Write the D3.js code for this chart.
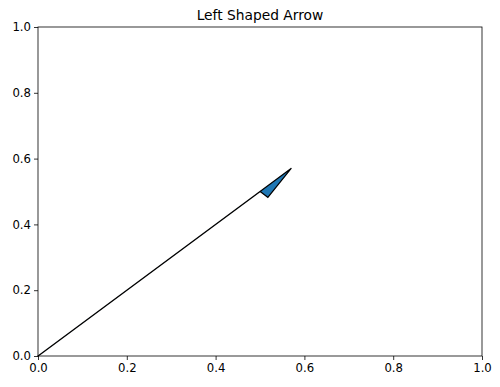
<!DOCTYPE html>
<html>
<head>
<meta charset="utf-8">
<script src="https://cdn.jsdelivr.net/npm/d3@7"></script>
<style>
  body { margin: 0; background: #fff; }
  text { font-family: "DejaVu Sans", sans-serif; }
</style>
</head>
<body>
<div id="chart"></div>
<script>
// Arrow definition (data units)
const arrowStart = [0, 0];
const arrowDelta = [0.5, 0.5];
const headWidth = 0.05;
const headLength = 0.1;
const stemWidth = 0.001;
const xTicks = [0, 0.2, 0.4, 0.6, 0.8, 1.0];
const yTicks = [0, 0.2, 0.4, 0.6, 0.8, 1.0];

const width = 500, height = 387;
const margin = { left: 38, right: 18, top: 27, bottom: 31 };

const svg = d3.select('#chart').append('svg')
    .attr('width', width)
    .attr('height', height);

const x = d3.scaleLinear().domain([0, 1]).range([margin.left, width - margin.right]);
const y = d3.scaleLinear().domain([0, 1]).range([height - margin.bottom, margin.top]);

// Build the left-half arrow polygon like matplotlib FancyArrow(shape='left')
const dist = Math.hypot(arrowDelta[0], arrowDelta[1]);
const length = dist + headLength;
const hw = headWidth, hl = headLength, lw = stemWidth;
const local = [
    [0, 0],
    [-hl, -hw / 2],
    [-hl, -lw / 2],
    [-length, -lw / 2],
    [-length, 0]
];
const ux = arrowDelta[0] / dist, uy = arrowDelta[1] / dist;
const tip = [arrowStart[0] + ux * length, arrowStart[1] + uy * length];
const pts = local.map(([a, b]) => [
    tip[0] + a * ux - b * uy,
    tip[1] + a * uy + b * ux
]);

svg.append('path')
    .attr('d', d3.line().x(d => x(d[0])).y(d => y(d[1]))(pts) + 'Z')
    .attr('fill', '#1f77b4')
    .attr('stroke', '#000')
    .attr('stroke-width', 1.2)
    .attr('stroke-linejoin', 'miter');

// Axes
const xAxis = svg.append('g')
    .attr('transform', `translate(0,${height - margin.bottom})`)
    .call(d3.axisBottom(x).tickValues(xTicks).tickFormat(d3.format('.1f')).tickSize(4).tickSizeOuter(0));
const yAxis = svg.append('g')
    .attr('transform', `translate(${margin.left},0)`)
    .call(d3.axisLeft(y).tickValues(yTicks).tickFormat(d3.format('.1f')).tickSize(4).tickSizeOuter(0));

[xAxis, yAxis].forEach(g => {
    g.select('.domain').remove();
    g.selectAll('.tick line').attr('stroke', '#000').attr('stroke-width', 0.8);
    g.selectAll('.tick text')
        .attr('fill', '#000')
        .style('font-size', '11.7px')
        .style('font-family', '"DejaVu Sans", sans-serif');
});
xAxis.selectAll('.tick text').attr('dy', '0.71em').attr('y', 8);
yAxis.selectAll('.tick text').attr('x', -7);

// Frame
svg.append('rect')
    .attr('x', x(0)).attr('y', y(1))
    .attr('width', x(1) - x(0)).attr('height', y(0) - y(1))
    .attr('fill', 'none')
    .attr('stroke', '#000')
    .attr('stroke-width', 0.8);

svg.append('text')
    .attr('x', (x(0) + x(1)) / 2)
    .attr('y', y(1) - 7)
    .attr('text-anchor', 'middle')
    .style('font-size', '13.8px')
    .text('Left Shaped Arrow');
</script>
</body>
</html>
